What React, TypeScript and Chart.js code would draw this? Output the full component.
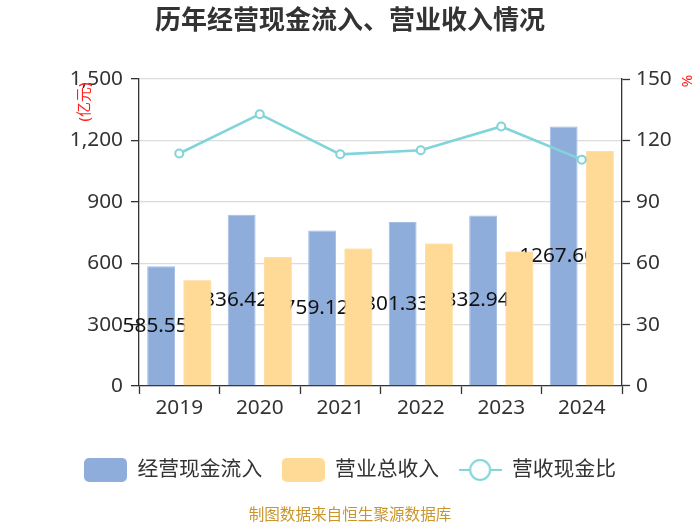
import { useEffect, useRef } from 'react';
import { Chart, registerables } from 'chart.js';

Chart.register(...registerables);

const FONT = '"Noto Sans", "Noto Sans CJK SC", sans-serif';

const years = ['2019', '2020', '2021', '2022', '2023', '2024'];
const cashInflow = [585.55, 836.42, 759.12, 801.33, 832.94, 1267.6];
const totalRevenue = [517, 630, 672, 696, 657, 1148];
const cashRatio = [113.6, 132.8, 113.2, 115.2, 126.8, 110.6];
const leftTicks = [0, 300, 600, 900, 1200, 1500];
const rightTicks = [0, 30, 60, 90, 120, 150];

const BLUE = '#8eaddb';
const ORANGE = '#ffd996';
const TEAL = '#80d4da';

// small canvases used as legend icons
const makeIcon = (kind: string, color: string) => {
  const c = document.createElement('canvas');
  c.width = 43;
  c.height = 24;
  const g = c.getContext('2d')!;
  if (kind === 'box') {
    g.fillStyle = color;
    g.beginPath();
    g.roundRect(0, 0, 43, 24, 5);
    g.fill();
  } else {
    g.strokeStyle = color;
    g.lineWidth = 2;
    g.beginPath();
    g.moveTo(0, 12);
    g.lineTo(43, 12);
    g.stroke();
    g.fillStyle = '#fff';
    g.beginPath();
    g.arc(21.5, 12, 10, 0, Math.PI * 2);
    g.fill();
    g.stroke();
  }
  return c;
};

// value labels sit in the middle of the blue bars, under the orange ones
const barLabels = {
  id: 'barLabels',
  afterDatasetDraw(chart, args) {
    if (args.index !== 0) return;
    const ctx = chart.ctx;
    ctx.save();
    ctx.font = `20.8px ${FONT}`;
    ctx.fillStyle = '#111';
    ctx.textAlign = 'center';
    ctx.textBaseline = 'middle';
    args.meta.data.forEach((el, i) => {
      ctx.fillText(cashInflow[i].toFixed(2), el.x - 6, (el.y + el.base) / 2);
    });
    ctx.restore();
    // orange bars go back on top of the labels
    chart.getDatasetMeta(1).data.forEach((el) => el.draw(ctx));
  },
};

const unitLabels = {
  id: 'unitLabels',
  afterDraw(chart) {
    const { ctx, chartArea } = chart;
    ctx.save();
    ctx.font = `15px ${FONT}`;
    ctx.fillStyle = '#ff2020';
    ctx.textAlign = 'center';
    ctx.textBaseline = 'middle';
    ctx.translate(chartArea.left - 54, chartArea.top + 23);
    ctx.rotate(-Math.PI / 2);
    ctx.fillText('(亿元)', 0, 0);
    ctx.restore();
    ctx.save();
    ctx.font = `15px ${FONT}`;
    ctx.fillStyle = '#ff2020';
    ctx.textAlign = 'center';
    ctx.textBaseline = 'middle';
    ctx.translate(chartArea.right + 66, chartArea.top + 2);
    ctx.rotate(-Math.PI / 2);
    ctx.fillText('%', 0, 0);
    ctx.restore();
  },
};

const App = () => {
  const chartRef = useRef(null);

  useEffect(() => {
    const ctx = chartRef.current.getContext('2d');
    const icons = [makeIcon('box', BLUE), makeIcon('box', ORANGE), makeIcon('line', TEAL)];

    let chartInstance = new Chart(ctx, {
      type: 'bar',
      data: {
        labels: years,
        datasets: [
          {
            label: '经营现金流入',
            data: cashInflow,
            backgroundColor: BLUE,
            borderColor: '#a3bde3',
            borderWidth: 1,
            yAxisID: 'y',
            order: 1,
            categoryPercentage: 0.9,
            barPercentage: 0.77,
          },
          {
            label: '营业总收入',
            data: totalRevenue,
            backgroundColor: ORANGE,
            borderColor: '#ffe0a8',
            borderWidth: 1,
            yAxisID: 'y',
            order: 2,
            categoryPercentage: 0.9,
            barPercentage: 0.77,
          },
          {
            type: 'line',
            label: '营收现金比',
            data: cashRatio,
            borderColor: TEAL,
            borderWidth: 2.6,
            pointRadius: 4,
            pointBorderWidth: 2,
            pointBackgroundColor: '#fff',
            pointBorderColor: TEAL,
            yAxisID: 'y1',
            order: 0,
          },
        ],
      },
      options: {
        animation: false,
        responsive: true,
        maintainAspectRatio: false,
        layout: { padding: 0 },
        scales: {
          x: {
            afterFit: (s) => { s.height = 54; },
            grid: { offset: true, drawOnChartArea: false, tickLength: 8, tickColor: '#333', tickWidth: 1.3 },
            border: { color: '#333', width: 1.3 },
            ticks: { color: '#333', padding: 2, font: { size: 20.8, family: FONT } },
          },
          y: {
            position: 'left',
            min: 0,
            max: 1500,
            afterFit: (s) => { s.width = 139; },
            afterBuildTicks: (s) => { s.ticks = leftTicks.map(v => ({ value: v })); },
            grid: { color: '#dcdcdc', lineWidth: 1.3, tickLength: 8, tickColor: '#333', tickWidth: 1.3 },
            border: { color: '#333', width: 1.3 },
            ticks: {
              color: '#333',
              padding: 8,
              font: { size: 20.8, family: FONT },
              callback: (v) => Number(v).toLocaleString('en-US'),
            },
          },
          y1: {
            position: 'right',
            min: 0,
            max: 150,
            afterFit: (s) => { s.width = 78; },
            afterBuildTicks: (s) => { s.ticks = rightTicks.map(v => ({ value: v })); },
            grid: { drawOnChartArea: false, tickLength: 8, tickColor: '#333', tickWidth: 1.3 },
            border: { color: '#333', width: 1.3 },
            ticks: { color: '#333', padding: 6, font: { size: 20.8, family: FONT } },
          },
        },
        plugins: {
          title: {
            display: true,
            text: '历年经营现金流入、营业收入情况',
            color: '#333',
            font: { size: 26, weight: 'bold', family: FONT },
            padding: { top: 6.4, bottom: 41.4 },
          },
          subtitle: {
            display: true,
            position: 'bottom',
            text: '制图数据来自恒生聚源数据库',
            color: '#c9962c',
            font: { size: 15.6, family: FONT },
            padding: { top: 16, bottom: 0 },
          },
          legend: {
            position: 'bottom',
            labels: {
              usePointStyle: true,
              pointStyleWidth: 43,
              padding: 19.5,
              color: '#333',
              font: { size: 20.8, family: FONT },
              generateLabels: (chart) =>
                chart.data.datasets.map((ds, i) => ({
                  text: ds.label,
                  pointStyle: icons[i],
                  datasetIndex: i,
                  fontColor: '#333',
                  hidden: false,
                  lineWidth: 0,
                  strokeStyle: 'transparent',
                  fillStyle: 'transparent',
                })),
            },
          },
          tooltip: { enabled: false },
        },
      },
      plugins: [barLabels, unitLabels],
    });

    return () => {
      chartInstance.destroy();
    };
  }, []);

  return (
    <div style={{ position: 'fixed', left: 0, top: 0, width: 700, height: 525, background: '#fff' }}>
      <canvas ref={chartRef} />
    </div>
  );
};

export default App;
